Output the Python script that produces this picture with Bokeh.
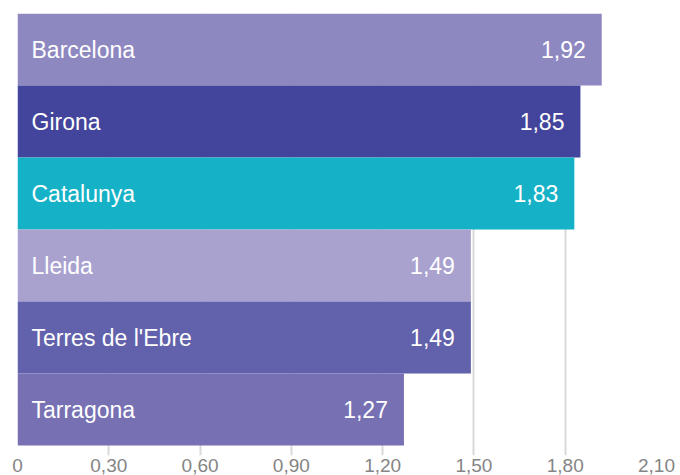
from bokeh.plotting import figure
from bokeh.models import ColumnDataSource, Range1d, FixedTicker
from bokeh.core.properties import value
from bokeh.embed import file_html
from bokeh.resources import INLINE

regions = ["Barcelona", "Girona", "Catalunya", "Lleida", "Terres de l'Ebre", "Tarragona"]
values = [1.92, 1.85, 1.83, 1.49, 1.49, 1.27]
colors = ["#8e88c1", "#43449b", "#15b2c7", "#a9a2cf", "#6261ab", "#7770b3"]
tick_values = [0, 0.3, 0.6, 0.9, 1.2, 1.5, 1.8, 2.1]
tick_labels = ["0", "0,30", "0,60", "0,90", "1,20", "1,50", "1,80", "2,10"]

n = len(regions)
ypos = [n - i - 0.5 for i in range(n)]
value_labels = [f"{v:.2f}".replace(".", ",") for v in values]

src = ColumnDataSource(dict(region=regions, val=values, color=colors, y=ypos,
                            vlab=value_labels, zero=[0] * n))

p = figure(width=680, height=475, output_backend="svg", toolbar_location=None,
           x_range=Range1d(0, 2.1), y_range=Range1d(-10 / 72, n),
           min_border_left=17, min_border_right=24, min_border_top=13, min_border_bottom=20)
p.outline_line_color = None
p.background_fill_color = "white"

p.hbar(y="y", right="val", left=0, height=1, fill_color="color", line_color=None, source=src)

p.text(x="zero", y="y", text="region", source=src, x_offset=14, text_align="left",
       text_baseline="middle", text_color="white", text_font=value("Liberation Sans"),
       text_font_size="23px")
p.text(x="val", y="y", text="vlab", source=src, x_offset=-16, text_align="right",
       text_baseline="middle", text_color="white", text_font=value("Liberation Sans"),
       text_font_size="23px")

p.yaxis.visible = False
p.ygrid.grid_line_color = None
p.xgrid.ticker = FixedTicker(ticks=tick_values)
p.xgrid.grid_line_color = "#d9d9d9"
p.xgrid.grid_line_width = 2
p.xaxis.ticker = FixedTicker(ticks=tick_values)
p.xaxis.major_label_overrides = {t: l for t, l in zip(tick_values, tick_labels)}
p.xaxis.axis_line_color = None
p.xaxis.major_tick_line_color = None
p.xaxis.minor_tick_line_color = None
p.xaxis.major_tick_out = 0
p.xaxis.major_tick_in = 0
p.xaxis.minor_tick_out = 0
p.xaxis.minor_tick_in = 0
p.xaxis.major_label_standoff = 3
p.xaxis.major_label_text_font = "Liberation Sans"
p.xaxis.major_label_text_font_size = "19px"
p.xaxis.major_label_text_color = "#858585"

open("out.html", "w").write(file_html(p, INLINE))
